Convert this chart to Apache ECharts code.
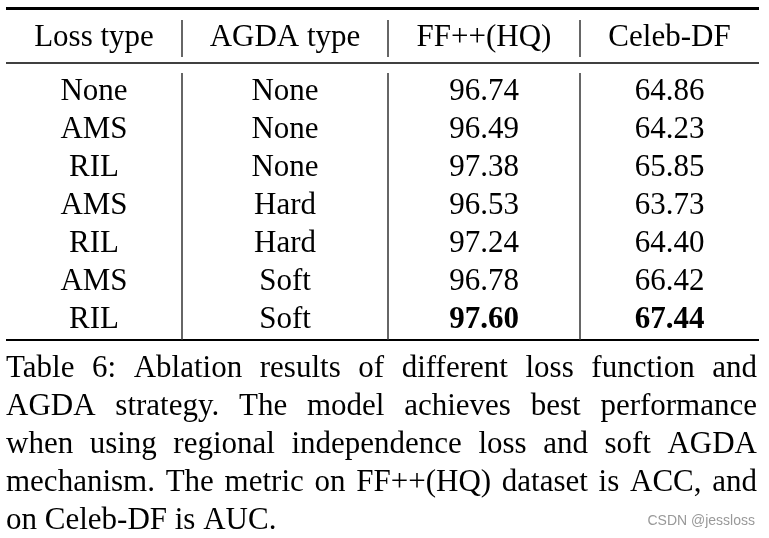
<!DOCTYPE html>
<html>
<head>
<meta charset="utf-8">
<script src="https://cdn.jsdelivr.net/npm/echarts@6/dist/echarts.min.js"></script>
<style>
html,body{margin:0;padding:0;background:#fff;}
#chart{width:769px;height:538px;}
</style>
</head>
<body>
<div id="chart"></div>
<script>
// ---- data ----
const columns = ['Loss type', 'AGDA type', 'FF++(HQ)', 'Celeb-DF'];
const rowIds = ['r1', 'r2', 'r3', 'r4', 'r5', 'r6', 'r7'];
const lossType = ['None', 'AMS', 'RIL', 'AMS', 'RIL', 'AMS', 'RIL'];
const agdaType = ['None', 'None', 'None', 'Hard', 'Hard', 'Soft', 'Soft'];
const ffhq = [96.74, 96.49, 97.38, 96.53, 97.24, 96.78, 97.60];
const celebDF = [64.86, 64.23, 65.85, 63.73, 64.40, 66.42, 67.44];
const captionLines = [
  'Table 6:  Ablation results of different loss function and',
  'AGDA strategy.  The model achieves best performance',
  'when using regional independence loss and soft AGDA',
  'mechanism. The metric on FF++(HQ) dataset is ACC, and',
  'on Celeb-DF is AUC.'
];
const watermark = 'CSDN @jessloss';

// ---- layout ----
const FONT = "'Liberation Serif', 'Times New Roman', serif";
const FS = 31;
const colBounds = [6, 182, 388, 580, 759];
const gridTop = 72.5, rowH = 38;

const chart = echarts.init(document.getElementById('chart'), null, {renderer: 'canvas'});

const columnData = [lossType, agdaType, ffhq, celebDF];
const grids = [], xAxes = [], yAxes = [], series = [];
columnData.forEach((vals, ci) => {
  grids.push({
    left: colBounds[ci], width: colBounds[ci + 1] - colBounds[ci],
    top: gridTop, height: rowH * rowIds.length, containLabel: false
  });
  xAxes.push({
    gridIndex: ci, type: 'category', data: [columns[ci]], position: 'top',
    axisLine: {show: false}, axisTick: {show: false}, splitLine: {show: false},
    axisLabel: {
      show: true, margin: 35, verticalAlign: 'middle', interval: 0,
      color: '#000', fontFamily: FONT, fontSize: FS
    }
  });
  yAxes.push({
    gridIndex: ci, type: 'category', data: rowIds, inverse: true, show: false
  });
  const isNum = typeof vals[0] === 'number';
  const maxV = isNum ? Math.max(...vals) : null;
  series.push({
    type: 'scatter', xAxisIndex: ci, yAxisIndex: ci,
    symbolSize: 0, silent: true,
    itemStyle: {opacity: 1},
    data: vals.map((v, ri) => ({
      value: [columns[ci], rowIds[ri], isNum ? v.toFixed(2) : v],
      label: {fontWeight: isNum && v === maxV ? 'bold' : 'normal'}
    })),
    label: {
      show: true, position: 'inside', color: '#000', opacity: 1,
      fontFamily: FONT, fontSize: FS, align: 'center', verticalAlign: 'middle',
      formatter: p => p.value[2]
    }
  });
});

// ---- rules ----
const graphics = [];
function line(x1, y1, x2, y2, w, c) {
  graphics.push({type: 'line', silent: true,
    shape: {x1, y1, x2, y2}, style: {stroke: c, lineWidth: w}});
}
line(6, 8.5, 759, 8.5, 3, '#000');
line(6, 63, 759, 63, 1.5, '#000');
line(6, 340, 759, 340, 2, '#000');
[182, 388, 580].forEach(x => {
  line(x, 20, x, 57, 1.5, '#333');
  line(x, 73, x, 340, 1.5, '#333');
});

// ---- caption (justified) ----
const mctx = document.createElement('canvas').getContext('2d');
mctx.font = FS + 'px ' + FONT;
const capX0 = 6, capX1 = 757;
const capCenter0 = 368.5;
captionLines.forEach((ln, li) => {
  const y = capCenter0 + li * rowH;
  const justify = li < captionLines.length - 1;
  if (!justify) {
    graphics.push({type: 'text', silent: true, x: capX0, y,
      style: {text: ln, font: FS + 'px ' + FONT, fill: '#000', align: 'left', verticalAlign: 'middle'}});
    return;
  }
  const words = ln.split(/\s+/);
  const widths = words.map(w => mctx.measureText(w).width);
  const total = widths.reduce((a, b) => a + b, 0);
  const gap = (capX1 - capX0 - total) / (words.length - 1);
  let x = capX0;
  words.forEach((w, wi) => {
    graphics.push({type: 'text', silent: true, x, y,
      style: {text: w, font: FS + 'px ' + FONT, fill: '#000', align: 'left', verticalAlign: 'middle'}});
    x += widths[wi] + gap;
  });
});
graphics.push({type: 'text', silent: true, x: 755, y: 521,
  style: {text: watermark, font: "14px 'Liberation Sans', Arial, sans-serif", fill: '#999', align: 'right', verticalAlign: 'middle'}});

chart.setOption({
  backgroundColor: '#fff',
  animation: false,
  grid: grids, xAxis: xAxes, yAxis: yAxes, series,
  graphic: graphics
});
</script>
</body>
</html>
